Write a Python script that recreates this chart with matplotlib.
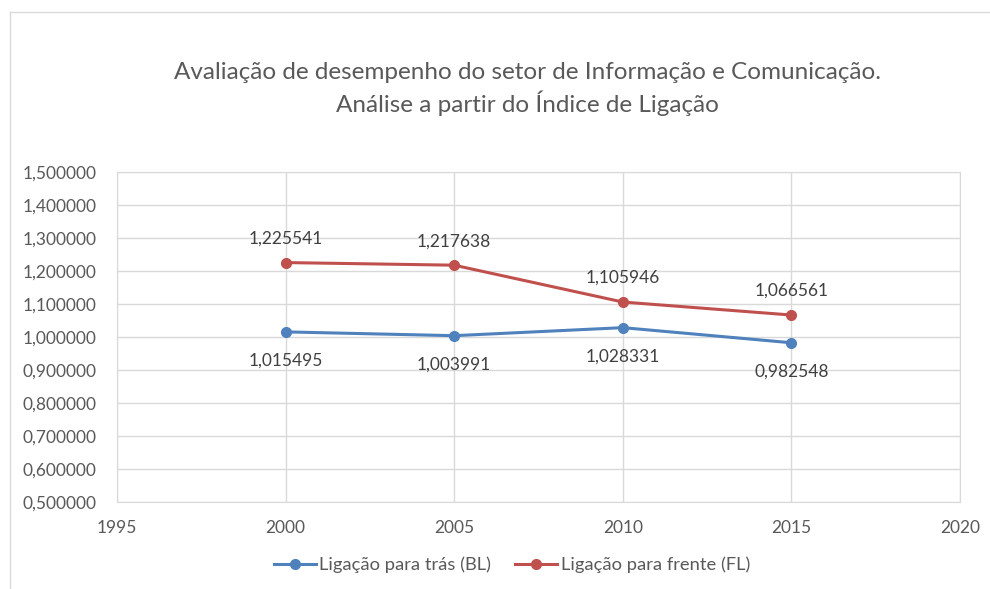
import matplotlib
matplotlib.use('Agg')
import matplotlib.pyplot as plt
from matplotlib.ticker import FuncFormatter, MultipleLocator

plt.rcParams['font.family'] = ['Lato', 'DejaVu Sans']

# dados
anos = [2000, 2005, 2010, 2015]
bl = [1.015495, 1.003991, 1.028331, 0.982548]
fl = [1.225541, 1.217638, 1.105946, 1.066561]
nome_bl = 'Ligação para trás (BL)'
nome_fl = 'Ligação para frente (FL)'
titulo = ('Avaliação de desempenho do setor de Informação e Comunicação.\n'
          'Análise a partir do Índice de Ligação')

cor_bl = '#4F81BD'
cor_fl = '#C0504D'
cor_txt = '#595959'
cor_grade = '#D9D9D9'

fig = plt.figure(figsize=(9.9, 5.89), dpi=100)
ax = fig.add_axes([117 / 990, 1 - 502 / 589, (960 - 117) / 990, (502 - 172) / 589])

# moldura externa do gráfico (estilo Excel)
fig.add_artist(plt.Line2D([10 / 990, 10 / 990], [0, 1 - 12 / 589],
                          transform=fig.transFigure, color=cor_grade, lw=1))
fig.add_artist(plt.Line2D([10 / 990, 1], [1 - 12 / 589, 1 - 12 / 589],
                          transform=fig.transFigure, color=cor_grade, lw=1))

ax.plot(anos, bl, color=cor_bl, lw=2.2, marker='o', ms=7, label=nome_bl, zorder=3)
ax.plot(anos, fl, color=cor_fl, lw=2.2, marker='o', ms=7, label=nome_fl, zorder=3)

for x, y in zip(anos, bl):
    ax.annotate(f'{y:.6f}'.replace('.', ','), (x, y), xytext=(0, -15),
                textcoords='offset points', ha='center', va='top',
                fontsize=12.5, color='#404040')
for x, y in zip(anos, fl):
    ax.annotate(f'{y:.6f}'.replace('.', ','), (x, y), xytext=(0, 11.5),
                textcoords='offset points', ha='center', va='bottom',
                fontsize=12.5, color='#404040')

ax.set_xlim(1995, 2020)
ax.set_ylim(0.5, 1.5)
ax.xaxis.set_major_locator(MultipleLocator(5))
ax.yaxis.set_major_locator(MultipleLocator(0.1))
ax.yaxis.set_major_formatter(FuncFormatter(lambda v, p: f'{v:.6f}'.replace('.', ',')))
ax.grid(True, color=cor_grade, lw=1)
ax.set_axisbelow(True)
for s in ax.spines.values():
    s.set_color(cor_grade)
ax.tick_params(length=0, labelsize=12.5, colors=cor_txt, pad=13)
ax.tick_params(axis='y', pad=15)

fig.text(527 / 990, 1 - 89 / 589, titulo, ha='center', va='center',
         fontsize=17.5, color=cor_txt, linespacing=1.35)

fig.legend(loc='center', bbox_to_anchor=(512 / 990, 1 - 565 / 589), ncol=2,
           frameon=False, fontsize=13.2, labelcolor=cor_txt, handlelength=2.3,
           columnspacing=1.3, handletextpad=0.2)

fig.savefig('out.png', dpi=100)
